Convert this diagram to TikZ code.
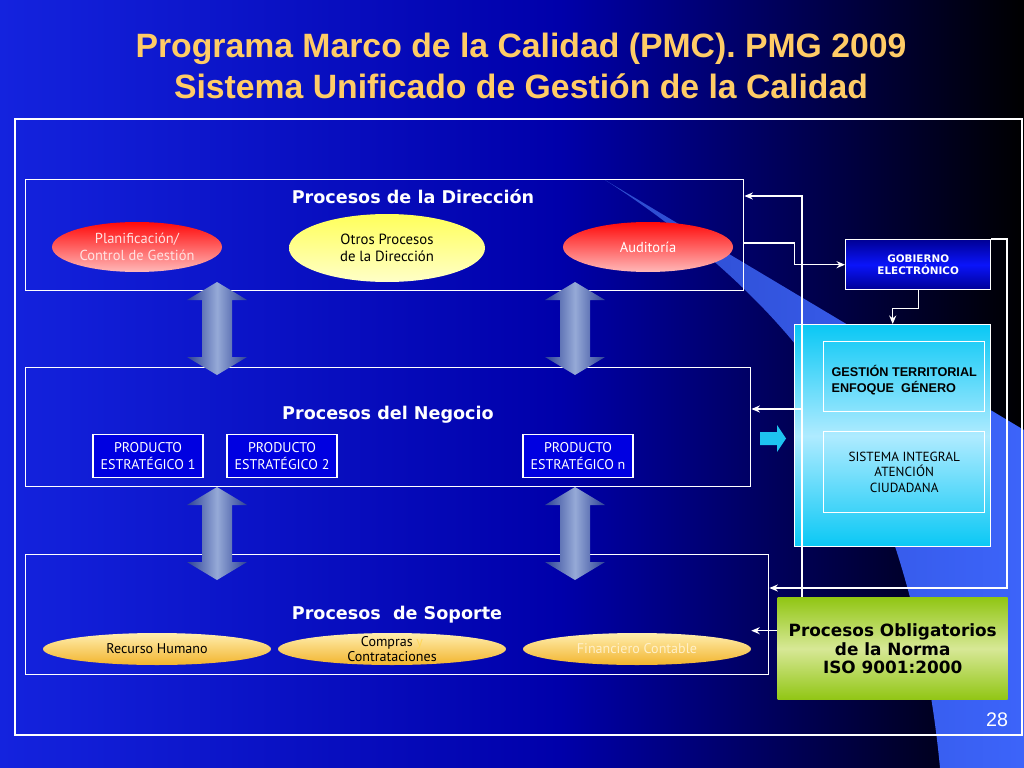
\documentclass[tikz,border=0pt]{standalone}
\usepackage{fontspec}
\setmainfont{PT Sans}
\newfontfamily\titlefont{Liberation Sans}
\newfontfamily\verdfont{DejaVu Sans}
\usetikzlibrary{shapes.geometric,arrows.meta,positioning}

\newlength\pxu
\setlength\pxu{0.025cm}

\definecolor{bgblue}{RGB}{20,35,222}
\definecolor{bgmid}{RGB}{0,0,170}
\definecolor{bandA}{RGB}{45,75,205}
\definecolor{bandB}{RGB}{60,100,250}
\definecolor{titleyellow}{RGB}{255,204,102}
\definecolor{redtop}{RGB}{255,10,10}
\definecolor{redbot}{RGB}{255,185,185}
\definecolor{pinktext}{RGB}{255,225,225}
\definecolor{yeltop}{RGB}{255,255,90}
\definecolor{yelbot}{RGB}{255,255,200}
\definecolor{orgtop}{RGB}{255,238,175}
\definecolor{orgbot}{RGB}{242,180,45}
\definecolor{ytext}{RGB}{255,215,90}
\definecolor{paletext}{RGB}{255,240,200}
\definecolor{prodblue}{RGB}{0,0,225}
\definecolor{arrdark}{RGB}{45,65,150}
\definecolor{arrlight}{RGB}{150,170,215}
\definecolor{gobdark}{RGB}{0,0,150}
\definecolor{gobbright}{RGB}{10,20,250}
\definecolor{cyantop}{RGB}{10,200,245}
\definecolor{cyanmid}{RGB}{175,235,255}
\definecolor{grntop}{RGB}{145,198,20}
\definecolor{grnmid}{RGB}{215,232,150}
\definecolor{cyanarrow}{RGB}{30,195,240}

\begin{document}
\begin{tikzpicture}[x=0.025cm, y=-0.025cm,
    area/.style={draw=white, line width=1pt, anchor=north west, inner sep=0pt},
    head/.style={font=\verdfont\bfseries\fontsize{12.5}{15}\selectfont, text=white},
    ttl/.style={font=\titlefont\bfseries\fontsize{24}{29}\selectfont, text=titleyellow, align=center},
    redproc/.style={ellipse, inner sep=0pt, minimum width=170\pxu, minimum height=50\pxu, top color=redtop, bottom color=redbot, text=pinktext, align=center, font=\fontsize{10.3}{12}\selectfont},
    yelproc/.style={ellipse, inner sep=0pt, top color=yeltop, bottom color=yelbot, align=center, font=\fontsize{10.5}{12.5}\selectfont},
    supproc/.style={ellipse, inner xsep=0pt, inner ysep=-7\pxu, minimum width=228\pxu, minimum height=32\pxu, top color=orgtop, bottom color=orgbot, align=center, font=\fontsize{10}{11}\selectfont},
    prod/.style={draw=white, line width=0.8pt, fill=prodblue, minimum width=110\pxu, minimum height=43\pxu, inner sep=0pt, align=center, text=white, font=\fontsize{10}{12}\selectfont},
    conn/.style={draw=white, line width=1pt, -{Stealth[length=6pt,width=5pt]}},
    blk/.style={left color=arrdark, right color=arrdark, middle color=arrlight}
  ]
  \useasboundingbox (0,0) rectangle (1024,768);

  % Background and swoosh
  \shade[left color=bgblue, right color=bgmid] (0,0) rectangle (560,768);
  \shade[left color=bgmid, right color=black] (560,0) rectangle (1024,768);
  \shade[left color=bandA, right color=bandB] (605,180) -- (1024,430) -- (1024,768) -- (940,768)
    .. controls (928,640) and (890,480) .. (800,350) .. controls (740,275) and (660,215) .. (605,180) -- cycle;

  % Title and frame
  \node[ttl] (title) at (521,66) {Programa Marco de la Calidad (PMC). PMG 2009\\Sistema Unificado de Gestión de la Calidad};
  \draw[white, line width=1.6pt] (15,119) rectangle (1022,735);

  % Procesos de la Dirección
  \node[area, minimum width=718\pxu, minimum height=111\pxu] (dir) at (25,179) {};
  \node[head] (dirhead) at (413,197) {Procesos de la Dirección};
  \node[redproc] (plan) at (137,247) {Planificación/\\Control de Gestión};
  \node[yelproc, minimum width=196\pxu, minimum height=68\pxu] (otros) at (387,248) {Otros Procesos\\de la Dirección};
  \node[redproc, text=white] (audit) at (648,247) {Auditoría};

  % Procesos del Negocio
  \node[area, minimum width=725\pxu, minimum height=119\pxu] (neg) at (25,367) {};
  \node[head] (neghead) at (388,415) {Procesos del Negocio};
  \node[prod] (prod1) at (148,456) {PRODUCTO\\ESTRATÉGICO 1};
  \node[prod] (prod2) at (282,456) {PRODUCTO\\ESTRATÉGICO 2};
  \node[prod] (prodn) at (578,456) {PRODUCTO\\ESTRATÉGICO n};

  % Procesos de Soporte
  \node[area, minimum width=743\pxu, minimum height=120\pxu] (sop) at (25,554) {};
  \node[head] (sophead) at (397,615) {Procesos\ \ de Soporte};
  \node[supproc] (rrhh) at (157,649) {Recurso Humano};
  \node[supproc] (compras) at (392,649) {Compras {\color{ytext}y}\\Contrataciones};
  \node[supproc, text=paletext] (finan) at (637,649) {Financiero Contable};

  % block arrows between the levels
  \foreach \ax/\ay in {217/282, 575/282, 217/487, 575/487}
    \shade[blk] (\ax,\ay) -- ++(30,18) -- ++(-15,0) -- ++(0,57) -- ++(15,0) -- ++(-30,18)
      -- ++(-30,-18) -- ++(15,0) -- ++(0,-57) -- ++(-15,0) -- cycle;

  % Right column
  \node[area, minimum width=145\pxu, minimum height=50\pxu, top color=gobdark, bottom color=gobdark, middle color=gobbright,
    font=\verdfont\bfseries\fontsize{7.4}{9}\selectfont, text=white, align=center] (gob) at (845,239) {GOBIERNO\\ELECTRÓNICO};
  \node[area, minimum width=196\pxu, minimum height=222\pxu, top color=cyantop, bottom color=cyantop, middle color=cyanmid] (ciu) at (794,324) {};
  \node[area, minimum width=161\pxu, minimum height=70\pxu, font=\titlefont\bfseries\fontsize{9}{11}\selectfont] (terr) at (823,341)
    {\raisebox{-3.5pt}[\height][\depth]{\begin{tabular}{@{}l@{}}GESTIÓN TERRITORIAL\\ENFOQUE\ \ GÉNERO\end{tabular}}};
  \node[area, minimum width=161\pxu, minimum height=81\pxu, align=center, font=\fontsize{9.4}{11}\selectfont] (sist) at (823,431) {SISTEMA INTEGRAL\\ATENCIÓN\\CIUDADANA};
  \node[area, draw=none, minimum width=230\pxu, minimum height=102\pxu, top color=grntop, bottom color=grntop, middle color=grnmid,
    font=\verdfont\bfseries\fontsize{12}{13}\selectfont, align=center] (obl) at (777,597) {Procesos Obligatorios\\de la Norma\\ISO 9001:2000};
  \fill[cyanarrow] (760,432) -- (777,432) -- (777,425) -- (786,438.5) -- (777,452) -- (777,445) -- (760,445) -- cycle;

  % Connectors
  \coordinate (upj) at (802,196);
  \coordinate (negj) at (802,409);
  \coordinate (oblj) at ([yshift=18\pxu]obl.west);
  \coordinate (rtj) at (1007,588);
  \coordinate (dirj) at ([yshift=-64\pxu]dir.north east);
  \draw[conn] (obl.north -| upj) |- (dir.east |- upj);
  \draw[conn] (negj) -- (neg.east |- negj);
  \draw[conn] (oblj) -- (finan.east |- oblj);
  \draw[conn] (gob.north east) -| (rtj) -- (sop.east |- rtj);
  \draw[conn] (dirj) -- ++(50,0) |- (gob.west);
  \draw[conn] (gob.south) -- ++(0,18) -| (ciu.north);

  \node[font=\titlefont\fontsize{14}{14}\selectfont, text=white] (pg) at (997,720) {28};
\end{tikzpicture}
\end{document}
